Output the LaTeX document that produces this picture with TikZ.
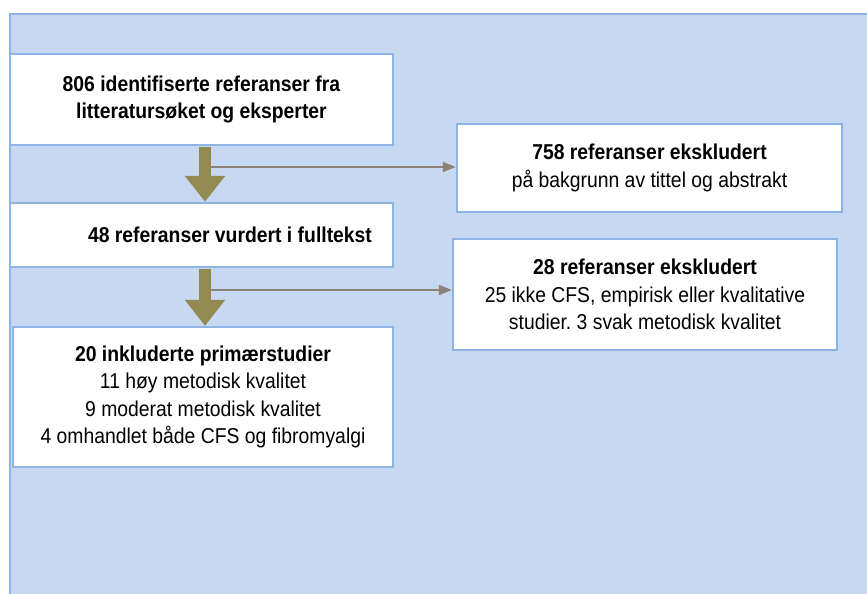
\documentclass[tikz,border=0pt]{standalone}
\usepackage{fontspec}
\setmainfont{Liberation Sans}[FakeStretch=0.9]
\usepackage{tikz}
\usetikzlibrary{arrows.meta}
\usepackage{xcolor}
\definecolor{panelfill}{HTML}{C6D9F1}
\definecolor{panelline}{HTML}{8DB4E2}
\definecolor{flowolive}{HTML}{938A52}
\definecolor{sidegrey}{HTML}{8C8279}
\frenchspacing

\begin{document}
\begin{tikzpicture}[x=1pt, y=-1pt,
  box/.style={rectangle, draw=panelline, line width=2.5pt, fill=white, align=center, inner sep=0pt,
    font=\fontsize{21.5}{27.3}\selectfont},
  flow/.style={draw=flowolive, line width=12pt, -{Triangle[width=39pt, length=26pt, fill=flowolive]}, shorten <=1.2pt},
  side/.style={draw=sidegrey, line width=2pt, -{Triangle[width=10pt, length=13pt, fill=sidegrey]}}
]
\useasboundingbox (0,0) rectangle (867,594);
\clip (0,0) rectangle (867,594);
\draw[fill=panelfill, draw=panelline, line width=2pt] (10,14) rectangle (890,620);
\node[box, minimum width=383pt, minimum height=91pt] (found) at (201.5,99.5) {\textbf{806 identifiserte referanser fra}\\\textbf{litteratursøket og eksperter}};
\node[box, minimum width=383pt, minimum height=64pt] (full) at (201.5,235) {};
\node[font=\fontsize{21.5}{27.3}\selectfont\bfseries] (fulltxt) at (230,235) {48 referanser vurdert i fulltekst};
\node[box, minimum width=380pt, minimum height=140pt] (incl) at (203,397) {\textbf{20 inkluderte primærstudier}\\11 høy metodisk kvalitet\\9 moderat metodisk kvalitet\\4 omhandlet både CFS og fibromyalgi};
\node[box, minimum width=385pt, minimum height=88pt] (excl1) at (649.5,168) {\textbf{758 referanser ekskludert}\\på bakgrunn av tittel og abstrakt};
\node[box, minimum width=384pt, minimum height=111pt] (excl2) at (645,294.5) {\textbf{28 referanser ekskludert}\\25 ikke CFS, empirisk eller kvalitative\\studier. 3 svak metodisk kvalitet};
% main flow
\draw[flow] ([xshift=3.5pt]found.south) -- ([xshift=3.5pt]full.north);
\draw[flow] ([xshift=3.5pt]full.south) -- ([xshift=2pt]incl.north);
% exclusions
\coordinate (split1) at (211,167);
\coordinate (split2) at (211,290);
\draw[side] (split1) -- (split1 -| excl1.west);
\draw[side] (split2) -- (split2 -| excl2.west);
\end{tikzpicture}
\end{document}
